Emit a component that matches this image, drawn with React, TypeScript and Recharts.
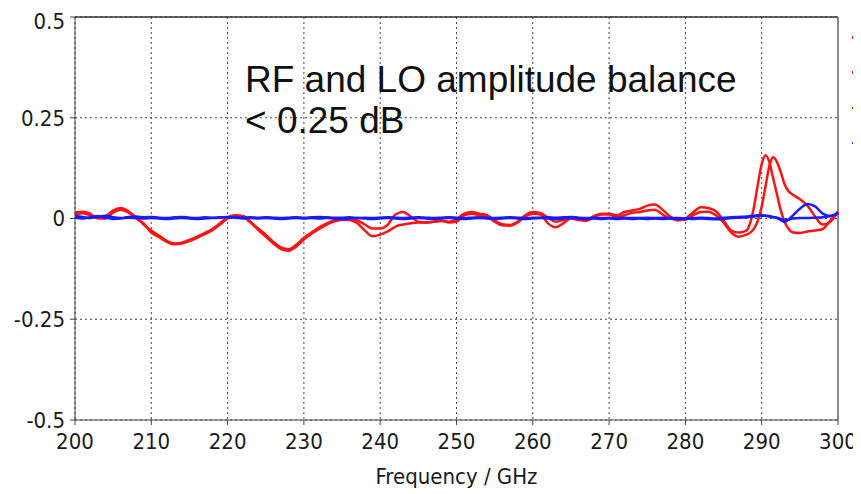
import { CartesianGrid, Line, LineChart, ReferenceLine, XAxis, YAxis } from "recharts";

const freq = [
    200, 201, 202, 203, 204, 205, 206, 207, 208, 209,
    210, 211, 212, 213, 214, 215, 216, 217, 218, 219,
    220, 221, 222, 223, 224, 225, 226, 227, 228, 229,
    230, 231, 232, 233, 234, 235, 236, 237, 238, 239,
    240, 241, 242, 243, 244, 245, 246, 247, 248, 249,
    250, 251, 252, 253, 254, 255, 256, 257, 258, 259,
    260, 261, 262, 263, 264, 265, 266, 267, 268, 269,
    270, 271, 272, 273, 274, 275, 276, 277, 278, 279,
    280, 281, 282, 283, 284, 285, 286, 287, 288,
    288.5, 289, 289.5, 290, 290.5, 291, 291.5, 292, 292.5, 293, 293.5, 294,
    295, 296, 297, 298, 299, 300,
];

const rf1 = [
    0.015, 0.017, 0.012, 0.0, 0.005, 0.02, 0.026, 0.018, 0.003, -0.015,
    -0.03, -0.042, -0.055, -0.062, -0.06, -0.053, -0.045, -0.036, -0.026, -0.012,
    0.003, 0.008, 0.005, -0.01, -0.025, -0.04, -0.058, -0.072, -0.076, -0.065,
    -0.048, -0.035, -0.022, -0.012, -0.004, 0.0, 0.0, -0.005, -0.015, -0.025,
    -0.025, -0.015, 0.01, 0.016, 0.005, -0.008, -0.01, -0.008, -0.006, -0.008,
    -0.002, 0.012, 0.016, 0.012, 0.008, -0.005, -0.014, -0.016, -0.008, 0.008,
    0.016, 0.014, 0.002, -0.008, -0.004, 0.003, 0.0, -0.003, 0.006, 0.012,
    0.012, 0.008, 0.016, 0.02, 0.024, 0.032, 0.035, 0.022, 0.005, -0.005,
    0.0, 0.015, 0.028, 0.026, 0.018, -0.005, -0.03, -0.035, -0.03,
    -0.01, 0.03, 0.085, 0.135, 0.157, 0.14, 0.1, 0.06, 0.02, -0.008, -0.025, -0.034,
    -0.036, -0.032, -0.03, -0.026, -0.005, 0.015,
];

const rf2 = [
    0.01, 0.013, 0.008, 0.002, 0.0, 0.015, 0.022, 0.015, 0.0, -0.012,
    -0.035, -0.046, -0.058, -0.064, -0.062, -0.056, -0.048, -0.039, -0.029, -0.015,
    0.0, 0.006, 0.006, -0.008, -0.028, -0.045, -0.062, -0.076, -0.08, -0.07,
    -0.052, -0.038, -0.026, -0.015, -0.007, -0.003, -0.004, -0.012, -0.03, -0.044,
    -0.04, -0.032, -0.02, -0.015, -0.012, -0.01, -0.01, -0.008, -0.005, -0.01,
    -0.008, 0.008, 0.012, 0.008, 0.006, -0.008, -0.017, -0.018, -0.01, 0.005,
    0.012, 0.01, -0.012, -0.022, -0.012, 0.0, -0.004, -0.006, 0.004, 0.01,
    0.01, 0.004, 0.008, 0.014, 0.016, 0.02, 0.022, 0.01, 0.0, -0.002,
    -0.003, 0.008, 0.016, 0.017, 0.008, -0.01, -0.035, -0.045, -0.04,
    -0.035, -0.025, -0.005, 0.03, 0.08, 0.13, 0.152, 0.14, 0.115, 0.085, 0.068, 0.06,
    0.048, 0.032, 0.005, -0.015, -0.008, 0.018,
];

const lo1 = [
    0.006, 0.004, 0.001, 0.004, 0.007, 0.003, 0.001, 0.004, 0.005, 0.003,
    0.004, 0.002, 0.001, 0.003, 0.004, 0.002, 0.001, 0.003, 0.002, 0.003,
    0.004, 0.003, 0.002, 0.003, 0.002, 0.003, 0.002, 0.001, 0.002, 0.003,
    0.002, 0.003, 0.004, 0.003, 0.002, 0.002, 0.003, 0.001, 0.002, 0.001,
    0.002, 0.003, 0.002, 0.001, 0.002, 0.003, 0.002, 0.001, 0.002, 0.003,
    0.002, 0.001, 0.002, 0.003, 0.002, 0.001, 0.002, 0.003, 0.002, 0.001,
    0.002, 0.002, 0.003, 0.002, 0.003, 0.004, 0.002, 0.001, 0.002, 0.001,
    0.002, 0.001, 0.002, 0.001, 0.001, 0.002, 0.001, 0.002, 0.001, 0.001,
    0.0, 0.001, 0.002, 0.001, 0.0, 0.002, 0.003, 0.004, 0.005,
    0.006, 0.007, 0.008, 0.008, 0.007, 0.005, 0.003, 0.001, -0.004, -0.008, -0.003, 0.006,
    0.024, 0.036, 0.03, 0.012, 0.006, 0.014,
];

const lo2 = [
    0.002, 0.0, 0.003, 0.006, 0.002, -0.001, 0.0, 0.002, 0.001, 0.0,
    0.001, 0.0, -0.001, 0.0, 0.001, 0.0, -0.001, 0.0, 0.001, 0.002,
    0.003, 0.002, 0.0, 0.001, 0.0, 0.001, 0.0, -0.001, 0.0, 0.001,
    0.0, 0.001, 0.0, 0.001, 0.0, -0.001, 0.0, 0.001, 0.0, -0.001,
    0.0, 0.001, 0.0, -0.001, 0.0, 0.001, 0.0, -0.001, 0.0, 0.001,
    0.0, -0.001, 0.0, 0.001, 0.0, -0.001, 0.0, 0.001, 0.0, -0.001,
    0.0, 0.001, 0.0, -0.001, 0.0, 0.001, 0.0, -0.001, 0.0, -0.001,
    0.0, -0.001, 0.0, -0.001, 0.0, -0.001, 0.0, -0.001, 0.0, -0.001,
    0.0, -0.001, 0.0, -0.001, -0.002, -0.001, 0.001, 0.002, 0.003,
    0.004, 0.005, 0.006, 0.007, 0.007, 0.006, 0.004, 0.002, -0.001, -0.004, -0.003, 0.0,
    0.001, 0.001, 0.002, 0.003, 0.006, 0.012,
];

const xTicks = [200, 210, 220, 230, 240, 250, 260, 270, 280, 290, 300];
const yTicks = [-0.5, -0.25, 0, 0.25, 0.5];
const seriesColors = ["#ff1414", "#ff1414", "#1a1aff", "#1a1aff"];

const data = freq.map((f, i) => ({ f, rf1: rf1[i], rf2: rf2[i], lo1: lo1[i], lo2: lo2[i] }));

const RED = seriesColors[0];
const BLUE = seriesColors[2];
const tickFont = {
    fontSize: 22,
    fill: "#1a1a1a",
    fontFamily: "'DejaVu Sans Condensed', 'DejaVu Sans', sans-serif",
    fontStretch: "condensed",
};

export default function App() {
    return (
        <div style={{ position: "relative", width: 853, height: 486, overflow: "hidden" }}>
            <LineChart width={853} height={486} data={data} margin={{ top: 9, right: 23, left: 0, bottom: 8 }}>
                <CartesianGrid stroke="#444" strokeDasharray="2 3" />
                <XAxis
                    dataKey="f"
                    type="number"
                    domain={[200, 300]}
                    ticks={xTicks}
                    height={66}
                    stroke="#444"
                    tickSize={5}
                    tickMargin={8}
                    tick={tickFont}
                    label={{ value: "Frequency / GHz", position: "insideBottom", offset: 2, style: tickFont }}
                />
                <YAxis
                    type="number"
                    domain={[-0.5, 0.5]}
                    ticks={yTicks}
                    width={67}
                    stroke="#444"
                    tickSize={5}
                    tickMargin={5}
                    tick={tickFont}
                    tickFormatter={(v: number) => String(v)}
                />
                <ReferenceLine y={0.5} stroke="#333" strokeWidth={1.5} />
                <ReferenceLine x={300} stroke="#888" strokeWidth={2} />
                <Line name="RF 1" dataKey="rf1" type="monotone" stroke={RED} strokeWidth={2.5} dot={false} isAnimationActive={false} />
                <Line name="RF 2" dataKey="rf2" type="monotone" stroke={RED} strokeWidth={2.5} dot={false} isAnimationActive={false} />
                <Line name="LO 1" dataKey="lo1" type="monotone" stroke={BLUE} strokeWidth={2.5} dot={false} isAnimationActive={false} />
                <Line name="LO 2" dataKey="lo2" type="monotone" stroke={BLUE} strokeWidth={2.5} dot={false} isAnimationActive={false} />
            </LineChart>
            {/* legend: only the line marks are visible, the rest is off the page */}
            <div style={{ position: "absolute", left: 844, top: 28 }}>
                {seriesColors.map((c, i) => (
                    <div key={i} style={{ position: "absolute", top: i * 35.3, width: 14, height: 2.5, background: c }} />
                ))}
            </div>
            <div
                style={{
                    position: "absolute",
                    left: 237,
                    top: 51,
                    fontFamily: "'Liberation Sans', Arial, sans-serif",
                    fontSize: 37,
                    lineHeight: "41px",
                    color: "#111",
                    whiteSpace: "nowrap",
                }}
            >
                RF and LO amplitude balance
                <br />
                &lt; 0.25 dB
            </div>
        </div>
    );
}
